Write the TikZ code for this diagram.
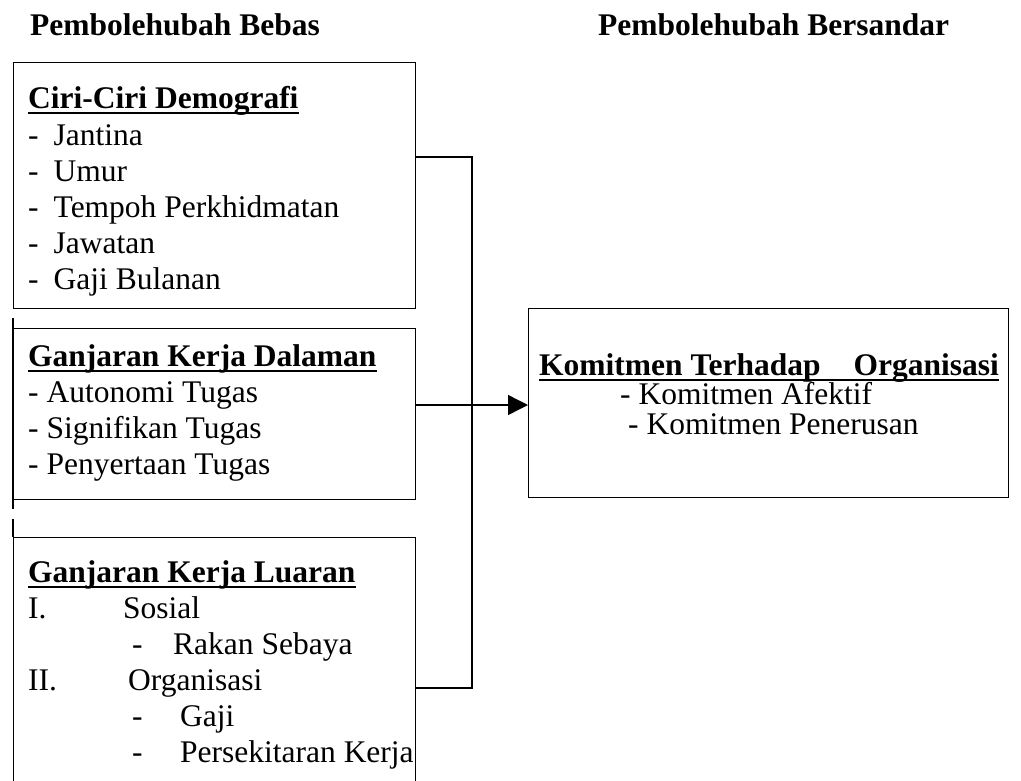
\documentclass[tikz,border=0pt]{standalone}
\usepackage{fontspec}
\setmainfont{Liberation Serif}
\usetikzlibrary{arrows.meta}
\begin{document}
\begin{tikzpicture}[x=1pt,y=-1pt,
  box/.style={draw, line width=1.4pt, minimum width=402pt, anchor=north west, inner sep=0pt},
  txt/.style={anchor=base west, inner sep=0pt, font=\fontsize{31.5}{36}\selectfont},
  hd/.style={txt, font=\fontsize{31.5}{36}\selectfont\bfseries},
  ul/.style={line width=1.6pt},
  conn/.style={line width=1.4pt},
  arr/.style={conn, -{Triangle[length=20pt,width=20pt]}}]
\useasboundingbox (0,0) rectangle (1021,780);
% titles
\node[hd] (t1) at (30,35) {Pembolehubah Bebas};
\node[hd] (t2) at (598,35) {Pembolehubah Bersandar};
% boxes
\node[box, minimum height=246pt] (b1) at (13,62) {};
\node[box, minimum height=171pt] (b2) at (13,328) {};
\node[box, minimum height=260pt] (b3) at (13,537) {};
\node[box, minimum width=480pt, minimum height=189pt] (b4) at (528,308) {};
% scan line extensions
\draw[conn] ([yshift=10pt]b2.north west) -- ([yshift=-9pt]b2.south west);
\draw[conn] ([yshift=18pt]b3.north west) -- (b3.north west);
% box 1
\node[hd] (h1) at (28,108) {Ciri-Ciri Demografi};
\draw[ul] ([yshift=-5pt]h1.base west) -- ([yshift=-5pt]h1.base east);
\node[txt] (i11) at (28,145) {-\hspace{15pt}Jantina};
\node[txt] (i12) at (28,181) {-\hspace{15pt}Umur};
\node[txt] (i13) at (28,217) {-\hspace{15pt}Tempoh Perkhidmatan};
\node[txt] (i14) at (28,253) {-\hspace{15pt}Jawatan};
\node[txt] (i15) at (28,289) {-\hspace{15pt}Gaji Bulanan};
% box 2
\node[hd] (h2) at (28,366) {Ganjaran Kerja Dalaman};
\draw[ul] ([yshift=-5pt]h2.base west) -- ([yshift=-5pt]h2.base east);
\node[txt] (i21) at (28,402) {- Autonomi Tugas};
\node[txt] (i22) at (28,438) {- Signifikan Tugas};
\node[txt] (i23) at (28,474) {- Penyertaan Tugas};
% box 3
\node[hd] (h3) at (28,582) {Ganjaran Kerja Luaran};
\draw[ul] ([yshift=-5pt]h3.base west) -- ([yshift=-5pt]h3.base east);
\node[txt] (i31) at (28,618) {\makebox[95pt][l]{I.}Sosial};
\node[txt] (i32) at (132,654) {\makebox[41pt][l]{-}Rakan Sebaya};
\node[txt] (i33) at (28,690) {\makebox[100pt][l]{II.}Organisasi};
\node[txt] (i34) at (132,726) {\makebox[48pt][l]{-}Gaji};
\node[txt] (i35) at (132,762) {\makebox[48pt][l]{-}Persekitaran Kerja};
% box 4
\node[hd] (h4) at (539,375) {Komitmen Terhadap\hspace{33pt}Organisasi};
\draw[ul] ([yshift=-5pt]h4.base west) -- ([yshift=-5pt]h4.base east);
\node[txt] (i41) at (620,404) {- Komitmen Afektif};
\node[txt] (i42) at (628,434) {- Komitmen Penerusan};
% connectors
\coordinate (j1) at (472,157);
\coordinate (j2) at (472,688);
\coordinate (ay) at (0,405);
\draw[conn] (b1.east |- j1) -- (j1) -- (j2) -- (b3.east |- j2);
\draw[arr] (b2.east |- ay) -- (b4.west |- ay);
\end{tikzpicture}
\end{document}
